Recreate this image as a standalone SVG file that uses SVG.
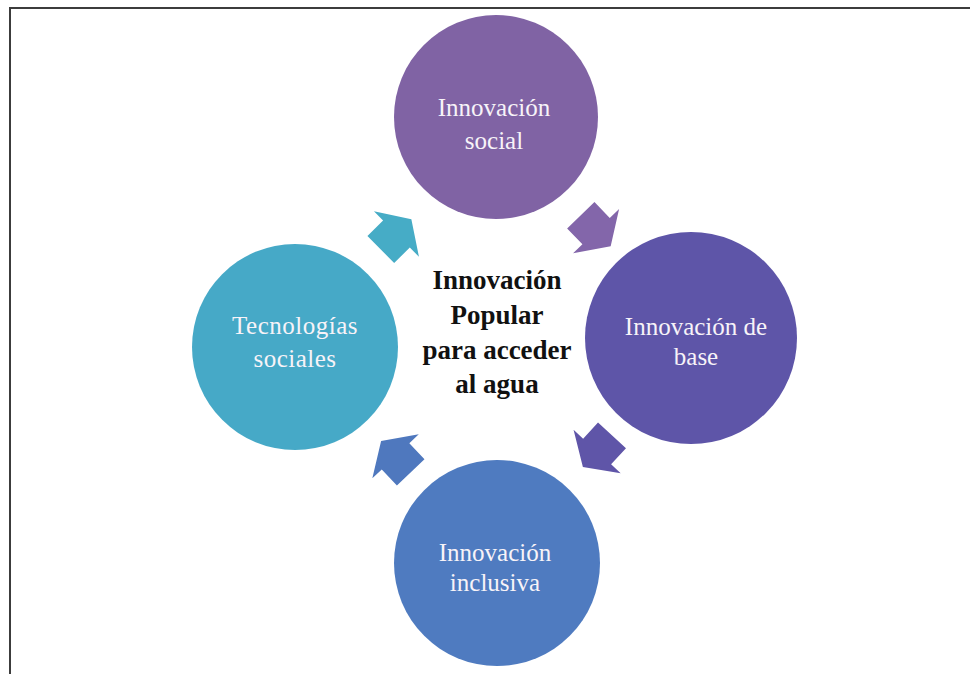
<svg xmlns="http://www.w3.org/2000/svg" width="970" height="674" viewBox="0 0 970 674">
<style>
.lbl{font-size:25px;fill:#F7F3F8;text-anchor:middle}
.ctr{font-size:27px;font-weight:bold;fill:#111;text-anchor:middle}
.frame{stroke:#3c3c3c;stroke-width:2;fill:none}
</style>
<defs>
<path id="arr" d="M0,-19 H22 V-32 L43,0 L22,32 V19 H0 Z"/>
</defs>
<rect width="970" height="674" fill="#FFFFFF"/>
<path class="frame" d="M10,674 V8 H970"/>
<g id="connectors">
<use href="#arr" fill="#8366AA" transform="translate(580.8,215.3) rotate(46)"/>
<use href="#arr" fill="#5F55A8" transform="translate(612,435.3) rotate(132.6)"/>
<use href="#arr" fill="#4F78BE" transform="translate(410.7,472.3) rotate(-133.5)"/>
<use href="#arr" fill="#46ACC6" transform="translate(380.8,249.5) rotate(-44.7)"/>
</g>
<g font-family="'Liberation Serif', 'Times New Roman', 'DejaVu Serif', serif">
<g id="node-social">
<circle cx="496" cy="117" r="102" fill="#8063A4"/>
<text class="lbl" x="494" y="116">Innovación</text>
<text class="lbl" x="494" y="149">social</text>
</g>
<g id="node-base">
<circle cx="691" cy="338" r="106" fill="#5E55A8"/>
<text class="lbl" x="696" y="335">Innovación de</text>
<text class="lbl" x="696" y="365">base</text>
</g>
<g id="node-inclusiva">
<circle cx="497" cy="563" r="103" fill="#4F7BC0"/>
<text class="lbl" x="495" y="561">Innovación</text>
<text class="lbl" x="495" y="591">inclusiva</text>
</g>
<g id="node-tecnologias">
<circle cx="295" cy="347" r="103" fill="#46A9C7"/>
<text class="lbl" x="295" y="334" letter-spacing="0.5">Tecnologías</text>
<text class="lbl" x="295" y="367" letter-spacing="0.5">sociales</text>
</g>
<g id="node-center">
<text class="ctr" x="497" y="289">Innovación</text>
<text class="ctr" x="497" y="324">Popular</text>
<text class="ctr" x="497" y="359">para acceder</text>
<text class="ctr" x="497" y="393">al agua</text>
</g>
</g>
</svg>
